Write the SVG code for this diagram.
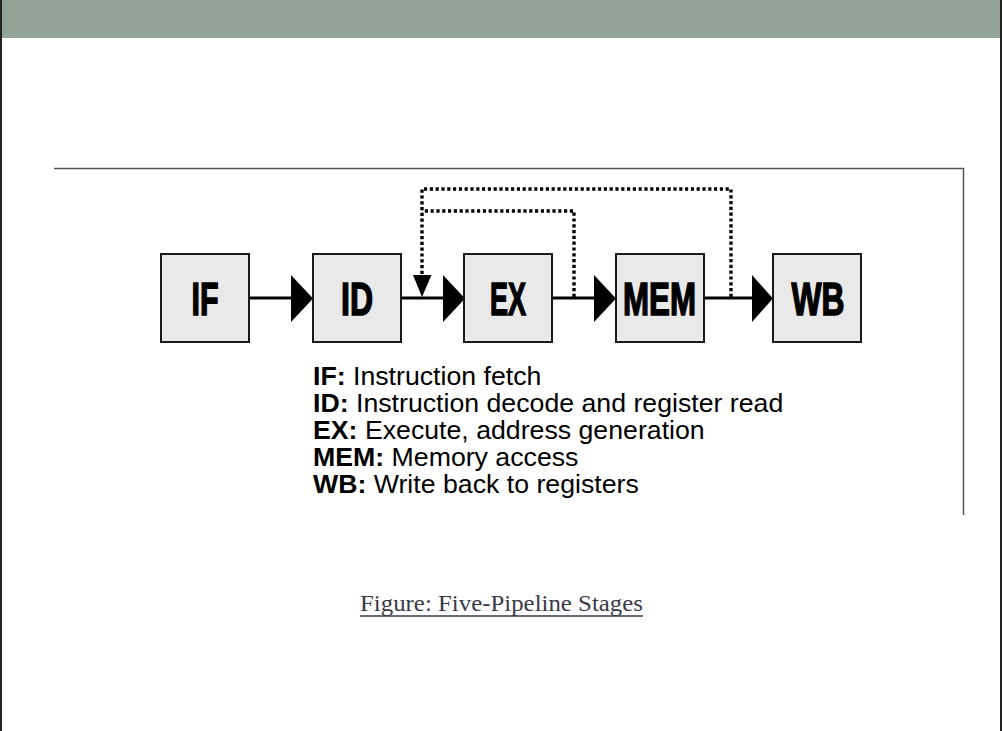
<svg xmlns="http://www.w3.org/2000/svg" width="1002" height="731" viewBox="0 0 1002 731">
<style>
.box{fill:#e9e9e9;stroke:#1a1a1a;stroke-width:2}
.lbl{font-family:"Liberation Sans Narrow","Liberation Sans",Arial,sans-serif;font-weight:bold;font-size:47px;fill:#000;stroke:#000;stroke-width:1.6;text-anchor:middle}
.wire{stroke:#000;stroke-width:3;fill:none}
.dot{stroke:#000;stroke-width:3.4;fill:none;stroke-dasharray:3.2 2.6}
.leg{font-family:"Liberation Sans",Arial,sans-serif;font-size:26.7px;fill:#000}
.leg tspan.b{font-weight:bold}
</style>
<rect x="0" y="0" width="1002" height="731" fill="#fff"/>
<rect x="0" y="0" width="1002" height="38" fill="#92a398"/>
<rect x="0" y="0" width="2" height="731" fill="#222"/>
<rect x="1000" y="0" width="2" height="731" fill="#222"/>
<g id="frame">
<line x1="54" y1="168.5" x2="964" y2="168.5" stroke="#555" stroke-width="1.5"/>
<line x1="963.5" y1="168" x2="963.5" y2="515" stroke="#555" stroke-width="1.5"/>
</g>
<g id="connectors">
<line class="wire" x1="249" y1="298" x2="292" y2="298"/>
<polygon points="291,275 313,298.5 291,322"/>
<line class="wire" x1="401" y1="298" x2="444" y2="298"/>
<polygon points="443,275 465,298.5 443,322"/>
<line class="wire" x1="552" y1="298" x2="595" y2="298"/>
<polygon points="594,275 616,298.5 594,322"/>
<line class="wire" x1="704" y1="298" x2="753" y2="298"/>
<polygon points="752,275 773,298.5 752,322"/>
<polyline class="dot" points="731,297 731,189 422,189 422,276"/>
<polyline class="dot" points="574,297 574,211 422,211"/>
<polygon points="413,275 431.5,275 422,297"/>
</g>
<g id="IF"><rect class="box" x="161" y="254" width="88" height="88"/><text class="lbl" x="205" y="315" textLength="27" lengthAdjust="spacingAndGlyphs">IF</text></g>
<g id="ID"><rect class="box" x="313" y="254" width="88" height="88"/><text class="lbl" x="357" y="315" textLength="32" lengthAdjust="spacingAndGlyphs">ID</text></g>
<g id="EX"><rect class="box" x="464" y="254" width="88" height="88"/><text class="lbl" x="508" y="315" textLength="36" lengthAdjust="spacingAndGlyphs">EX</text></g>
<g id="MEM"><rect class="box" x="616" y="254" width="88" height="88"/><text class="lbl" x="659.5" y="315" textLength="73" lengthAdjust="spacingAndGlyphs">MEM</text></g>
<g id="WB"><rect class="box" x="773" y="254" width="88" height="88"/><text class="lbl" x="818" y="315" textLength="53" lengthAdjust="spacingAndGlyphs">WB</text></g>
<g id="legend">
<text class="leg" x="313" y="385"><tspan class="b">IF:</tspan> Instruction fetch</text>
<text class="leg" x="313" y="412"><tspan class="b">ID:</tspan> Instruction decode and register read</text>
<text class="leg" x="313" y="439"><tspan class="b">EX:</tspan> Execute, address generation</text>
<text class="leg" x="313" y="466"><tspan class="b">MEM:</tspan> Memory access</text>
<text class="leg" x="313" y="493"><tspan class="b">WB:</tspan> Write back to registers</text>
</g>
<g id="caption">
<text x="360" y="611" font-family="'Liberation Serif','Times New Roman',serif" font-size="23" fill="#3a3a48" textLength="283" lengthAdjust="spacingAndGlyphs">Figure: Five-Pipeline Stages</text>
<line x1="360" y1="616" x2="643" y2="616" stroke="#3a3a48" stroke-width="1.4"/>
</g>
</svg>
